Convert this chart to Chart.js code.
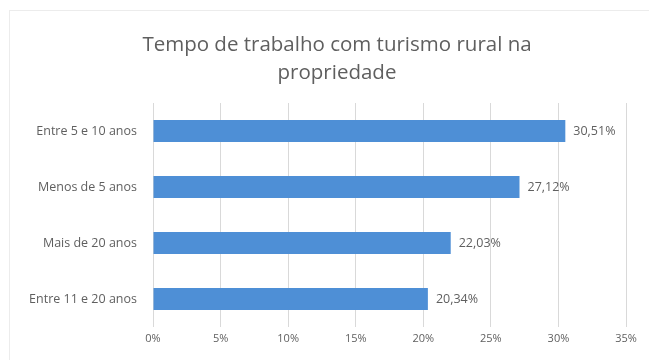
<!DOCTYPE html>
<html>
<head>
<meta charset="utf-8">
<script src="https://cdn.jsdelivr.net/npm/chart.js@4/dist/chart.umd.min.js"></script>
<style>
  html, body { margin: 0; padding: 0; background: #fff; }
  #wrap { width: 649px; height: 360px; }
</style>
</head>
<body>
<div id="wrap"><canvas id="chart" width="649" height="360"></canvas></div>
<script>
const titleLines = ['Tempo de trabalho com turismo rural na', 'propriedade'];
const categories = ['Entre 5 e 10 anos', 'Menos de 5 anos', 'Mais de 20 anos', 'Entre 11 e 20 anos'];
const shares = [30.51, 27.12, 22.03, 20.34];
const xTicks = [0, 5, 10, 15, 20, 25, 30, 35];

const grey = '#5f5f5f';
const fmt = v => v.toFixed(2).replace('.', ',') + '%';

// value labels to the right of each bar
const barLabels = {
  id: 'barLabels',
  afterDatasetsDraw(chart) {
    const ctx = chart.ctx;
    const meta = chart.getDatasetMeta(0);
    ctx.save();
    ctx.font = '12.5px "Open Sans", sans-serif';
    ctx.fillStyle = grey;
    ctx.textAlign = 'left';
    ctx.textBaseline = 'middle';
    meta.data.forEach((bar, i) => {
      ctx.fillText(fmt(shares[i]), bar.x + 8, bar.y);
    });
    ctx.restore();
  }
};

// frame plus a two-line heading centred over the whole card
const frame = {
  id: 'frame',
  beforeDraw(chart) {
    const ctx = chart.ctx;
    ctx.save();
    ctx.strokeStyle = '#ececec';
    ctx.lineWidth = 1;
    ctx.strokeRect(9.5, 10.5, 700, 400);
    ctx.font = '20.5px "Open Sans", sans-serif';
    ctx.fillStyle = grey;
    ctx.textAlign = 'center';
    ctx.textBaseline = 'middle';
    titleLines.forEach((line, i) => ctx.fillText(line, 337, 45 + i * 28));
    ctx.restore();
  }
};

new Chart(document.getElementById('chart'), {
  type: 'bar',
  data: {
    labels: categories,
    datasets: [{
      data: shares,
      backgroundColor: '#4e8fd6',
      borderWidth: 0,
      barPercentage: 0.39,
      categoryPercentage: 1
    }]
  },
  options: {
    indexAxis: 'y',
    responsive: false,
    animation: false,
    layout: { padding: { top: 103, right: 23, bottom: 12, left: 10 } },
    plugins: {
      legend: { display: false },
      tooltip: { enabled: false },
      title: { display: false }
    },
    scales: {
      x: {
        min: 0,
        max: 35,
        afterBuildTicks(scale) {
          scale.ticks = xTicks.map(v => ({ value: v }));
        },
        afterFit(scale) { scale.height = 21; },
        grid: { color: '#d9d9d9', drawTicks: false },
        border: { display: false },
        ticks: {
          color: grey,
          padding: 5,
          font: { family: '"Open Sans", sans-serif', size: 11 },
          callback: v => v + '%'
        }
      },
      y: {
        afterFit(scale) { scale.width = 143; },
        grid: { display: false },
        border: { display: false },
        ticks: {
          color: grey,
          padding: 8,
          font: { family: '"Open Sans", sans-serif', size: 12.5 }
        }
      }
    }
  },
  plugins: [frame, barLabels]
});
</script>
</body>
</html>
